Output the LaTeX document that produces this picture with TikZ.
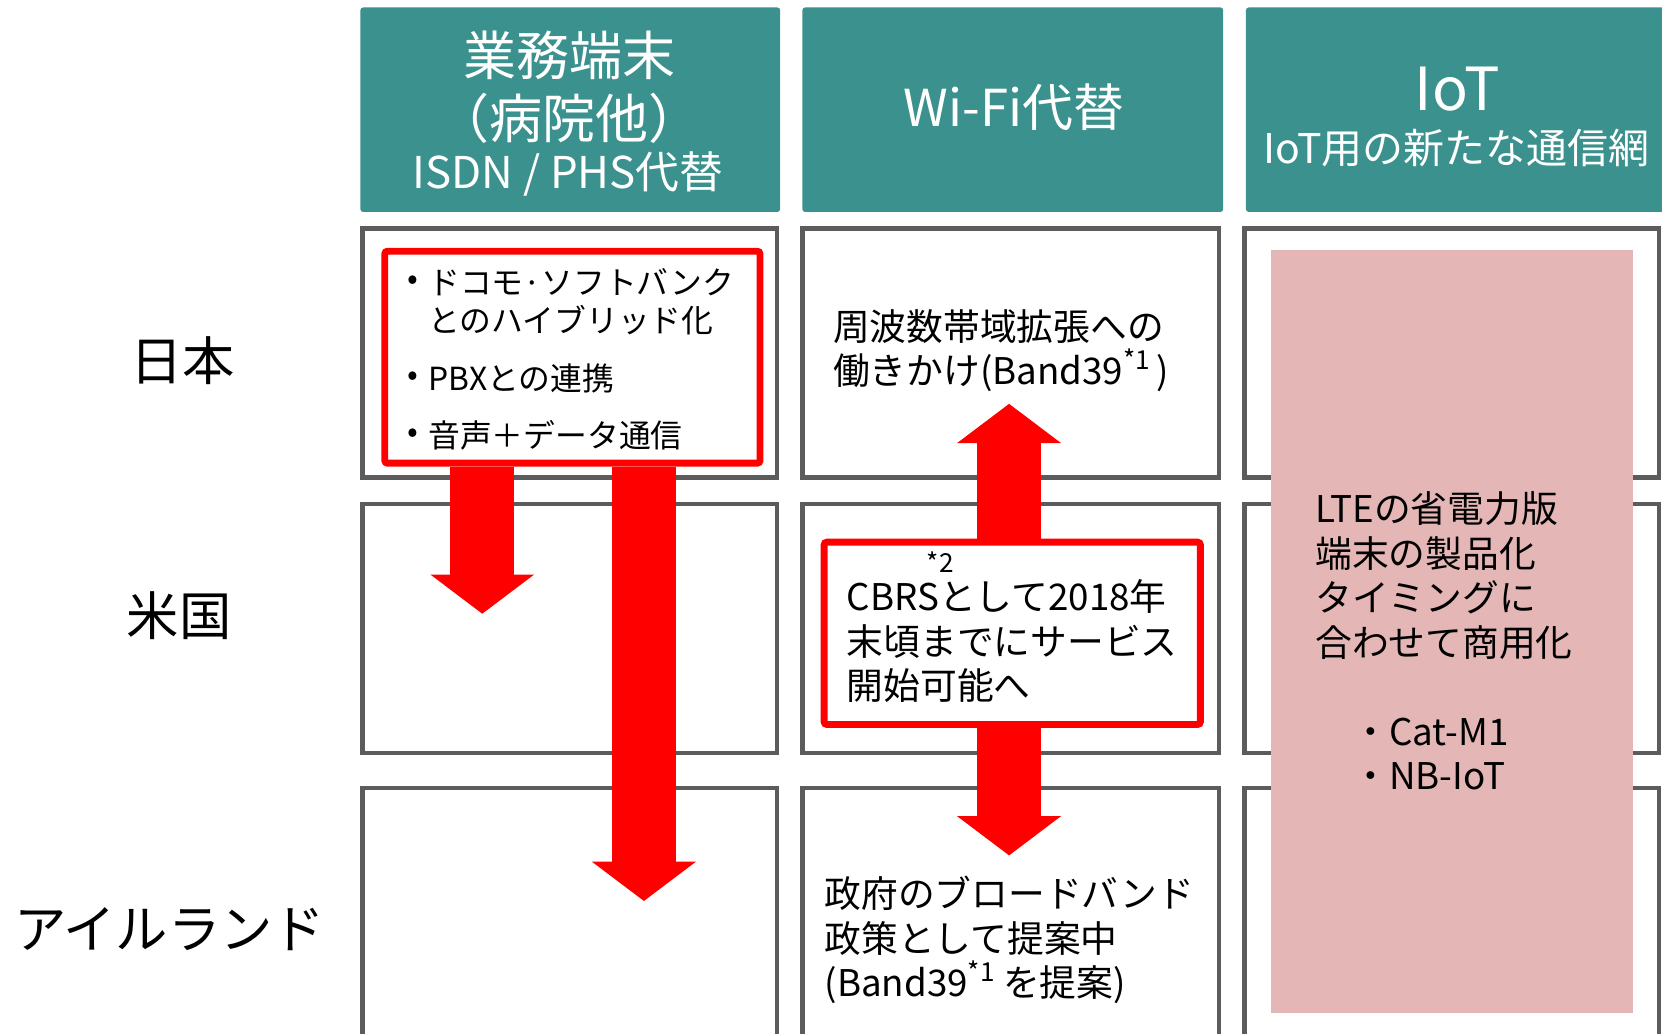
\documentclass[tikz,border=0pt]{standalone}
\usepackage{fontspec}
\setmainfont{Noto Sans CJK JP}
\newfontfamily\jphalt[RawFeature=+halt]{Noto Sans CJK JP}
\usetikzlibrary{arrows.meta}
\definecolor{hdrteal}{RGB}{58,145,141}
\definecolor{cellgray}{RGB}{92,92,92}
\definecolor{pinkfill}{RGB}{228,182,182}
\definecolor{arrowred}{RGB}{255,0,0}
\newcommand{\fs}[2]{\fontsize{#1}{#2}\selectfont}
\newcommand{\supx}[1]{\raisebox{0.42em}{\fontsize{18.5}{18.5}\selectfont #1}}
\begin{document}
\begin{tikzpicture}[x=0.75pt,y=-0.75pt,
  hdr/.style={fill=hdrteal, draw=none, rounded corners=2pt, inner sep=0pt},
  cell/.style={draw=cellgray, line width=3pt, fill=white, inner sep=0pt},
  redbox/.style={draw=arrowred, line width=4.9pt, fill=white, rounded corners=2pt, inner sep=0pt},
  blockarrow/.style={draw=arrowred, line width=45pt, line cap=butt,
     -{Triangle[width=73.5pt,length=27.75pt,line width=0pt]}},
  txt/.style={inner sep=0pt, outer sep=0pt},
  hdrtxt/.style={txt, text=white},
  rowlbl/.style={txt, font={\fs{37}{44}}},
  body/.style={txt, align=left, font={\fs{26}{31.5}}}]
\clip (0,0) rectangle (1568,975);
\fill[white] (0,0) rectangle (1568,975);
% headers
\node[hdr, minimum width=297pt, minimum height=144.75pt] (h1) at (538,103.5) {};
\node[hdr, minimum width=297.75pt, minimum height=144.75pt] (h2) at (955.5,103.5) {};
\node[hdr, minimum width=318.4pt, minimum height=144.75pt] (h3) at (1387.75,103.5) {};
% cells
\node[cell, minimum width=293.25pt, minimum height=176.25pt] (c11) at (537.5,333) {};
\node[cell, minimum width=294.75pt, minimum height=176.25pt] (c12) at (953.5,333) {};
\node[cell, minimum width=293.25pt, minimum height=176.25pt] (c13) at (1369.5,333) {};
\node[cell, minimum width=293.25pt, minimum height=176.25pt] (c21) at (537.5,593) {};
\node[cell, minimum width=294.75pt, minimum height=176.25pt] (c22) at (953.5,593) {};
\node[cell, minimum width=293.25pt, minimum height=176.25pt] (c23) at (1369.5,593) {};
\node[cell, minimum width=293.25pt, minimum height=192.4pt] (c31) at (537.5,872) {};
\node[cell, minimum width=294.75pt, minimum height=192.4pt] (c32) at (953.5,872) {};
\node[cell, minimum width=293.25pt, minimum height=192.4pt] (c33) at (1369.5,872) {};
% pink IoT block
\node[fill=pinkfill, draw=none, inner sep=0pt, minimum width=256.5pt, minimum height=540pt] (pk) at (1370,596) {};
% red boxes
\node[redbox, minimum width=265.5pt, minimum height=150pt] (rb1) at (540,337) {};
\node[redbox, minimum width=266.25pt, minimum height=129pt] (rb2) at (955,597.5) {};
% arrows
\coordinate (tA) at (455,579);
\coordinate (tB) at (607.5,850);
\coordinate (tC) at (952,381);
\coordinate (tD) at (952,807);
\draw[blockarrow] (rb1.south -| tA) -- (tA);
\draw[blockarrow] (rb1.south -| tB) -- (tB);
\draw[blockarrow] (rb2.north -| tC) -- (tC);
\draw[blockarrow] (rb2.south -| tD) -- (tD);
% header texts
\node[hdrtxt, font={\fs{37.5}{45}}] (h1a) at (537,52.5) {業務端末};
\node[hdrtxt, font={\jphalt\fs{37.5}{45}}] (h1b) at (537,112) {（病院他）};
\node[hdrtxt, font={\fs{31}{37}}] (h1c) at (536,164.5) {ISDN / PHS代替};
\node[hdrtxt, font={\fs{36}{43}}] (h2a) at (956.5,101) {Wi-Fi代替};
\node[hdrtxt, font={\fs{42}{50}}] (h3a) at (1375,84) {IoT};
\node[hdrtxt, font={\fs{29}{35}}] (h3b) at (1374,140) {IoT用の新たな通信網};
% row labels
\node[rowlbl] (r1) at (172,340) {日本};
\node[rowlbl] (r2) at (169,581) {米国};
\node[rowlbl] (r3) at (160,877) {アイルランド};
% red box 1 contents
\node[txt, font={\fs{22.5}{27}}] (bu1) at (390,267) {•};
\node[txt, font={\fs{22.5}{27}}] (bu2) at (390,357.5) {•};
\node[txt, font={\fs{22.5}{27}}] (bu3) at (390,411) {•};
\node[txt, align=left, anchor=west, font={\fs{22.5}{26.5}}] (b1) at (404,284.5) {ドコモ·ソフトバンク\\とのハイブリッド化};
\node[txt, anchor=west, font={\fs{22.5}{27}}] (b2) at (404,357.5) {PBXとの連携};
\node[txt, anchor=west, font={\fs{22.5}{27}}] (b3) at (404,411) {音声＋データ通信};
% Wi-Fi column texts
\node[body, anchor=west] (w1) at (786,331) {周波数帯域拡張への\\働きかけ(Band39\supx{*1}\,)};
\node[txt, font={\fs{18.5}{18.5}}] (s2) at (887,530) {*2};
\node[body, anchor=west] (w2) at (799,605) {CBRSとして2018年\\末頃までにサービス\\開始可能へ};
\node[body, anchor=west] (w3) at (778,887) {政府のブロードバンド\\政策として提案中\\(Band39\supx{*1}\kern6pt を提案)};
% IoT text
\node[body, anchor=west] (p1) at (1241,543) {LTEの省電力版\\端末の製品化\\タイミングに\\合わせて商用化};
\node[body, anchor=west] (p2) at (1276,711.5) {・Cat-M1\\・NB-IoT};
\end{tikzpicture}
\end{document}
